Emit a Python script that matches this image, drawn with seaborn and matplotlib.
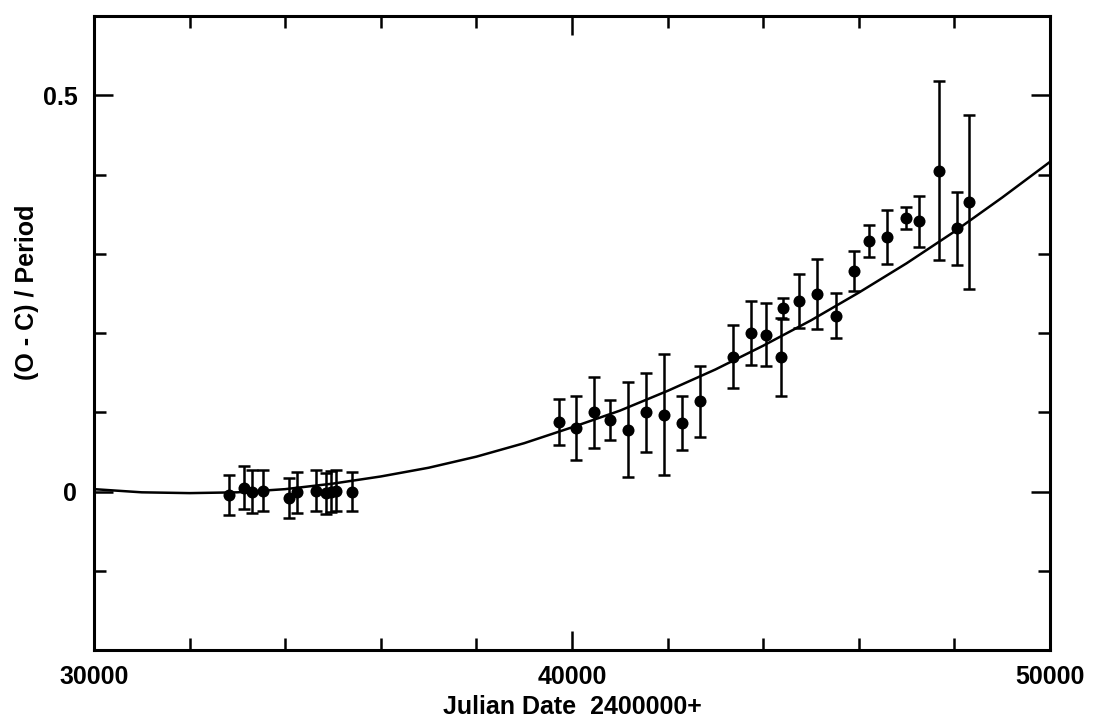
import matplotlib
matplotlib.use("Agg")
import matplotlib.pyplot as plt
import matplotlib.ticker as ticker
import seaborn as sns
import pandas as pd

# ── Data ───────────────────────────────────────────────────────────────────────
jd = [32824, 33138, 33305, 33536, 34079, 34247, 34644, 34854, 34958, 35063, 35397,
      39728, 40084, 40460, 40795, 41172, 41548, 41925, 42301, 42678,
      43368, 43745, 44059, 44372, 44414, 44749, 45126, 45523, 45900,
      46213, 46590, 46987, 47259, 47678, 48054, 48305]
oc = [-0.004, 0.005, 0.000, 0.001, -0.008, -0.001, 0.001, -0.002, 0.000, 0.001, 0.000,
      0.088, 0.080, 0.100, 0.090, 0.078, 0.100, 0.097, 0.086, 0.114,
      0.170, 0.200, 0.198, 0.170, 0.231, 0.240, 0.249, 0.222, 0.278,
      0.316, 0.321, 0.345, 0.341, 0.405, 0.332, 0.365]
err = [0.025, 0.027, 0.027, 0.026, 0.025, 0.026, 0.026, 0.026, 0.026, 0.026, 0.025,
       0.029, 0.040, 0.045, 0.025, 0.060, 0.050, 0.076, 0.034, 0.045,
       0.040, 0.040, 0.040, 0.049, 0.013, 0.034, 0.044, 0.028, 0.025,
       0.020, 0.034, 0.014, 0.032, 0.113, 0.046, 0.110]

# fitted curve, sampled every 1000 days
fit_jd = list(range(30000, 50001, 1000))
fit_oc = [0.003, -0.001, -0.002, -0.001, 0.003, 0.010, 0.019, 0.030, 0.044, 0.061,
          0.081, 0.102, 0.127, 0.154, 0.184, 0.216, 0.251, 0.288, 0.328, 0.371, 0.416]

points = pd.DataFrame({"jd": jd, "oc": oc, "err": err})
fit = pd.DataFrame({"jd": fit_jd, "oc": fit_oc})

# ── Style ──────────────────────────────────────────────────────────────────────
sns.set_theme(style="ticks")
plt.rcParams["font.family"] = ["Liberation Sans", "DejaVu Sans"]
plt.rcParams["font.weight"] = "bold"
for key in ("text.color", "axes.labelcolor", "xtick.color", "ytick.color"):
    plt.rcParams[key] = "black"

fig = plt.figure(figsize=(10.94, 7.28), dpi=100)
ax = fig.add_axes([0.0859, 0.1071, 0.8739, 0.8709])

sns.lineplot(data=fit, x="jd", y="oc", color="black", linewidth=1.8, ax=ax)
ax.errorbar(points["jd"], points["oc"], yerr=points["err"], fmt="none",
            ecolor="black", elinewidth=1.8, capsize=4.5, capthick=1.8)
sns.scatterplot(data=points, x="jd", y="oc", color="black", s=75,
                edgecolor="black", linewidth=0, ax=ax, zorder=3)

ax.set_xlim(30000, 50000)
ax.set_ylim(-0.2, 0.6)

ax.xaxis.set_major_locator(ticker.FixedLocator([30000, 40000, 50000]))
ax.xaxis.set_minor_locator(ticker.MultipleLocator(2000))
ax.yaxis.set_major_locator(ticker.FixedLocator([0, 0.5]))
ax.yaxis.set_minor_locator(ticker.MultipleLocator(0.1))
ax.xaxis.set_major_formatter(ticker.FuncFormatter(lambda v, _: f"{int(v)}"))
ax.yaxis.set_major_formatter(ticker.FuncFormatter(lambda v, _: "0" if v == 0 else f"{v:.1f}"))

ax.tick_params(which="both", direction="in", top=True, right=True, width=1.8)
ax.tick_params(which="major", length=14)
ax.tick_params(which="minor", length=8.5)
ax.tick_params(axis="x", which="major", labelsize=18, pad=11)
ax.tick_params(axis="y", which="major", labelsize=18, pad=12)
for lab in ax.get_xticklabels() + ax.get_yticklabels():
    lab.set_fontweight("bold")

for side in ax.spines.values():
    side.set_visible(True)
    side.set_linewidth(2.2)
    side.set_color("black")

ax.set_xlabel("Julian Date  2400000+", fontsize=18, fontweight="bold", labelpad=4)
ax.set_ylabel("(O - C) / Period", fontsize=18, fontweight="bold")
ax.yaxis.set_label_coords(-0.058, 0.565)

plt.savefig("out.png", dpi=100)
plt.close()
